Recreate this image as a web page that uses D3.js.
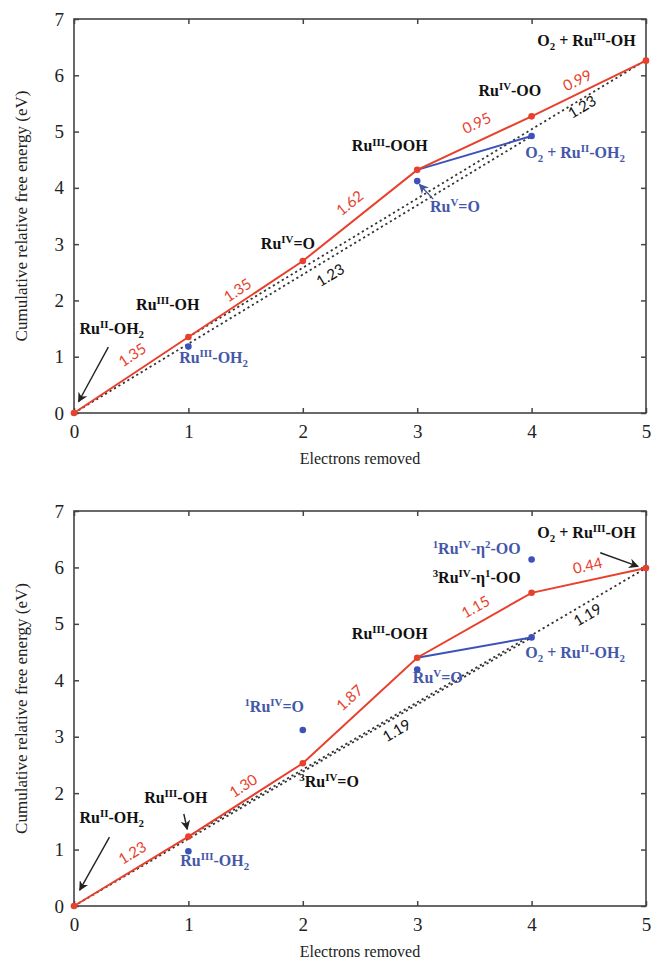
<!DOCTYPE html>
<html>
<head>
<meta charset="utf-8">
<script src="https://cdn.jsdelivr.net/npm/d3@7"></script>
<style>
  html, body { margin: 0; padding: 0; background: #fff; }
  svg { display: block; }
</style>
</head>
<body>
<svg id="chart" width="654" height="962"></svg>
<script>
// ---------------- DATA ----------------
const electrons = [0, 1, 2, 3, 4, 5];
const xTicks = [0, 1, 2, 3, 4, 5];
const yTicks = [0, 1, 2, 3, 4, 5, 6, 7];

// Top panel
const topRed = [0, 1.35, 2.70, 4.32, 5.27, 6.26];
const topBluePoints = [[1, 1.18], [3, 4.12], [4, 4.92]];
const topBlueLine = [[3, 4.32], [4, 4.92]];
const topIdealA = [[0, 0], [4, 4.92]];
const topIdealB = [[1, 1.35], [5, 6.27]];

// Bottom panel
const botRed = [0, 1.23, 2.53, 4.40, 5.55, 5.99];
const botBluePoints = [[1, 0.97], [2, 3.12], [3, 4.19], [4, 4.76], [4, 6.14]];
const botBlueLine = [[3, 4.40], [4, 4.76]];
const botIdealA = [[0, 0], [4, 4.76]];
const botIdealB = [[1, 1.23], [5, 5.99]];

// Annotations (text, anchor in data coords, kind)
const topLabels = [
  {t: "Ru^{II}-OH_{2}", x: 0.33, y: 1.40, c: "black"},
  {t: "Ru^{III}-OH", x: 0.82, y: 1.83, c: "black"},
  {t: "Ru^{III}-OH_{2}", x: 1.22, y: 0.89, c: "blue"},
  {t: "Ru^{IV}=O", x: 1.87, y: 2.91, c: "black"},
  {t: "Ru^{III}-OOH", x: 2.76, y: 4.65, c: "black"},
  {t: "Ru^{V}=O", x: 3.33, y: 3.57, c: "blue"},
  {t: "Ru^{IV}-OO", x: 3.81, y: 5.63, c: "black"},
  {t: "O_{2} + Ru^{II}-OH_{2}", x: 4.38, y: 4.53, c: "blue"},
  {t: "O_{2} + Ru^{III}-OH", x: 4.48, y: 6.52, c: "black"}
];
const topNumbers = [
  {t: "1.35", x: 0.51, y: 1.03, a: -33.6, c: "red"},
  {t: "1.35", x: 1.43, y: 2.18, a: -33.6, c: "red"},
  {t: "1.23", x: 2.24, y: 2.45, a: -31, c: "black"},
  {t: "1.62", x: 2.41, y: 3.73, a: -38.5, c: "red"},
  {t: "0.95", x: 3.52, y: 5.15, a: -25, c: "red"},
  {t: "0.99", x: 4.40, y: 5.91, a: -26, c: "red"},
  {t: "1.23", x: 4.44, y: 5.44, a: -31, c: "black"}
];
const topArrows = [
  {from: [0.30, 1.17], to: [0.04, 0.20], c: "black"},
  {from: [3.14, 3.80], to: [3.02, 4.06], c: "blue"}
];

const botLabels = [
  {t: "Ru^{II}-OH_{2}", x: 0.33, y: 1.47, c: "black"},
  {t: "Ru^{III}-OH", x: 0.89, y: 1.83, c: "black"},
  {t: "Ru^{III}-OH_{2}", x: 1.23, y: 0.71, c: "blue"},
  {t: "^{1}Ru^{IV}=O", x: 1.75, y: 3.44, c: "blue"},
  {t: "^{3}Ru^{IV}=O", x: 2.23, y: 2.11, c: "black"},
  {t: "Ru^{III}-OOH", x: 2.76, y: 4.73, c: "black"},
  {t: "Ru^{V}=O", x: 3.18, y: 3.95, c: "blue"},
  {t: "^{3}Ru^{IV}-η^{1}-OO", x: 3.52, y: 5.73, c: "black"},
  {t: "^{1}Ru^{IV}-η^{2}-OO", x: 3.52, y: 6.24, c: "blue"},
  {t: "O_{2} + Ru^{III}-OH", x: 4.48, y: 6.52, c: "black"},
  {t: "O_{2} + Ru^{II}-OH_{2}", x: 4.38, y: 4.40, c: "blue"}
];
const botNumbers = [
  {t: "1.23", x: 0.51, y: 0.94, a: -31.2, c: "red"},
  {t: "1.30", x: 1.48, y: 2.13, a: -32.6, c: "red"},
  {t: "1.87", x: 2.41, y: 3.69, a: -42.6, c: "red"},
  {t: "1.19", x: 2.82, y: 3.11, a: -30.4, c: "black"},
  {t: "1.15", x: 3.51, y: 5.30, a: -29.5, c: "red"},
  {t: "0.44", x: 4.49, y: 6.03, a: -12.3, c: "red"},
  {t: "1.19", x: 4.49, y: 5.16, a: -30.4, c: "black"}
];
const botArrows = [
  {from: [0.31, 1.22], to: [0.05, 0.28], c: "black"},
  {from: [0.96, 1.63], to: [0.99, 1.36], c: "black"},
  {from: [4.60, 6.26], to: [4.93, 6.02], c: "black"}
];

// ---------------- STYLE ----------------
const RED = "#e8402c";
const BLUE = "#3c52b8";
const BLUE_TXT = "#4557a8";
const AXIS = "#444";
const colorOf = c => c === "red" ? RED : c === "blue" ? BLUE_TXT : "#111";

const svg = d3.select("#chart");
const defs = svg.append("defs");
[["black", "#222"], ["blue", "#44559a"]].forEach(([k, col]) => {
  defs.append("marker").attr("id", "arr-" + k)
    .attr("viewBox", "0 0 10 10").attr("refX", 9).attr("refY", 5)
    .attr("markerWidth", 7).attr("markerHeight", 7).attr("orient", "auto")
    .append("path").attr("d", "M0,0 L10,5 L0,10 L3,5 Z").attr("fill", col);
});

function richText(g, str, fs) {
  const re = /(\^\{[^}]*\}|_\{[^}]*\})/g;
  const parts = str.split(re).filter(s => s.length);
  let shift = 0;
  parts.forEach(p => {
    let txt = p, target = 0, size = fs;
    if (p.startsWith("^{")) { txt = p.slice(2, -1); target = -0.36 * fs; size = fs * 0.68; }
    else if (p.startsWith("_{")) { txt = p.slice(2, -1); target = 0.25 * fs; size = fs * 0.68; }
    g.append("tspan").attr("dy", target - shift).attr("font-size", size).text(txt);
    shift = target;
  });
}

function panel(top, bottom, red, bluePts, blueLine, idealA, idealB, labels, numbers, arrows) {
  const x = d3.scaleLinear().domain([0, 5]).range([74, 646]);
  const y = d3.scaleLinear().domain([0, 7]).range([bottom, top]);
  const g = svg.append("g");

  // ticks (inward) on all sides
  g.append("g").attr("transform", `translate(0,${bottom})`)
    .call(d3.axisBottom(x).tickValues(xTicks).tickSize(-5).tickPadding(12).tickFormat(d3.format("d")))
    .call(s => s.select(".domain").remove());
  g.append("g").attr("transform", `translate(0,${top})`)
    .call(d3.axisTop(x).tickValues(xTicks).tickSize(-5).tickFormat(""))
    .call(s => s.select(".domain").remove());
  g.append("g").attr("transform", `translate(74,0)`)
    .call(d3.axisLeft(y).tickValues(yTicks).tickSize(-5).tickPadding(10).tickFormat(d3.format("d")))
    .call(s => s.select(".domain").remove());
  g.append("g").attr("transform", `translate(646,0)`)
    .call(d3.axisRight(y).tickValues(yTicks).tickSize(-5).tickFormat(""))
    .call(s => s.select(".domain").remove());
  g.selectAll(".tick line").attr("stroke", AXIS).attr("stroke-width", 1.5);
  g.selectAll(".tick text").attr("font-family", "Liberation Serif, serif")
    .attr("font-size", 19).attr("fill", "#222");

  g.append("rect").attr("x", x(0)).attr("y", top).attr("width", x(5) - x(0)).attr("height", bottom - top)
    .attr("fill", "none").attr("stroke", AXIS).attr("stroke-width", 1.6);

  g.append("text").attr("x", 360).attr("y", bottom + 51).attr("text-anchor", "middle")
    .attr("font-family", "Liberation Serif, serif").attr("font-size", 16).attr("fill", "#222")
    .text("Electrons removed");
  g.append("text").attr("transform", `translate(27,${(top + bottom) / 2}) rotate(-90)`)
    .attr("text-anchor", "middle")
    .attr("font-family", "Liberation Serif, serif").attr("font-size", 17).attr("fill", "#222")
    .text("Cumulative relative free energy (eV)");

  const line = d3.line().x(d => x(d[0])).y(d => y(d[1]));
  [idealA, idealB].forEach(d => {
    g.append("path").attr("d", line(d)).attr("fill", "none")
      .attr("stroke", "#333").attr("stroke-width", 1.8).attr("stroke-dasharray", "2.2,3");
  });
  g.append("path").attr("d", line(blueLine)).attr("fill", "none")
    .attr("stroke", BLUE).attr("stroke-width", 2);
  const redPts = electrons.map((e, i) => [e, red[i]]);
  g.append("path").attr("d", line(redPts)).attr("fill", "none")
    .attr("stroke", RED).attr("stroke-width", 2);
  g.selectAll(".bp").data(bluePts).join("circle")
    .attr("cx", d => x(d[0])).attr("cy", d => y(d[1])).attr("r", 3.3).attr("fill", BLUE);
  g.selectAll(".rp").data(redPts).join("circle")
    .attr("cx", d => x(d[0])).attr("cy", d => y(d[1])).attr("r", 3.3).attr("fill", RED);

  arrows.forEach(a => {
    g.append("line").attr("x1", x(a.from[0])).attr("y1", y(a.from[1]))
      .attr("x2", x(a.to[0])).attr("y2", y(a.to[1]))
      .attr("stroke", a.c === "blue" ? "#44559a" : "#222").attr("stroke-width", 1.4)
      .attr("marker-end", `url(#arr-${a.c})`);
  });

  labels.forEach(l => {
    const t = g.append("text").attr("x", x(l.x)).attr("y", y(l.y)).attr("dy", "0.35em")
      .attr("text-anchor", "middle").attr("font-family", "Liberation Serif, serif")
      .attr("font-weight", "bold").attr("font-size", 16).attr("fill", colorOf(l.c));
    richText(t, l.t, 16);
  });
  numbers.forEach(n => {
    g.append("text").attr("transform", `translate(${x(n.x)},${y(n.y)}) rotate(${n.a})`)
      .attr("dy", "0.35em").attr("text-anchor", "middle")
      .attr("font-family", "Lato, sans-serif").attr("font-size", 15)
      .attr("fill", n.c === "red" ? RED : "#111").text(n.t);
  });
}

panel(19, 413, topRed, topBluePoints, topBlueLine, topIdealA, topIdealB, topLabels, topNumbers, topArrows);
panel(511, 906, botRed, botBluePoints, botBlueLine, botIdealA, botIdealB, botLabels, botNumbers, botArrows);
</script>
</body>
</html>
